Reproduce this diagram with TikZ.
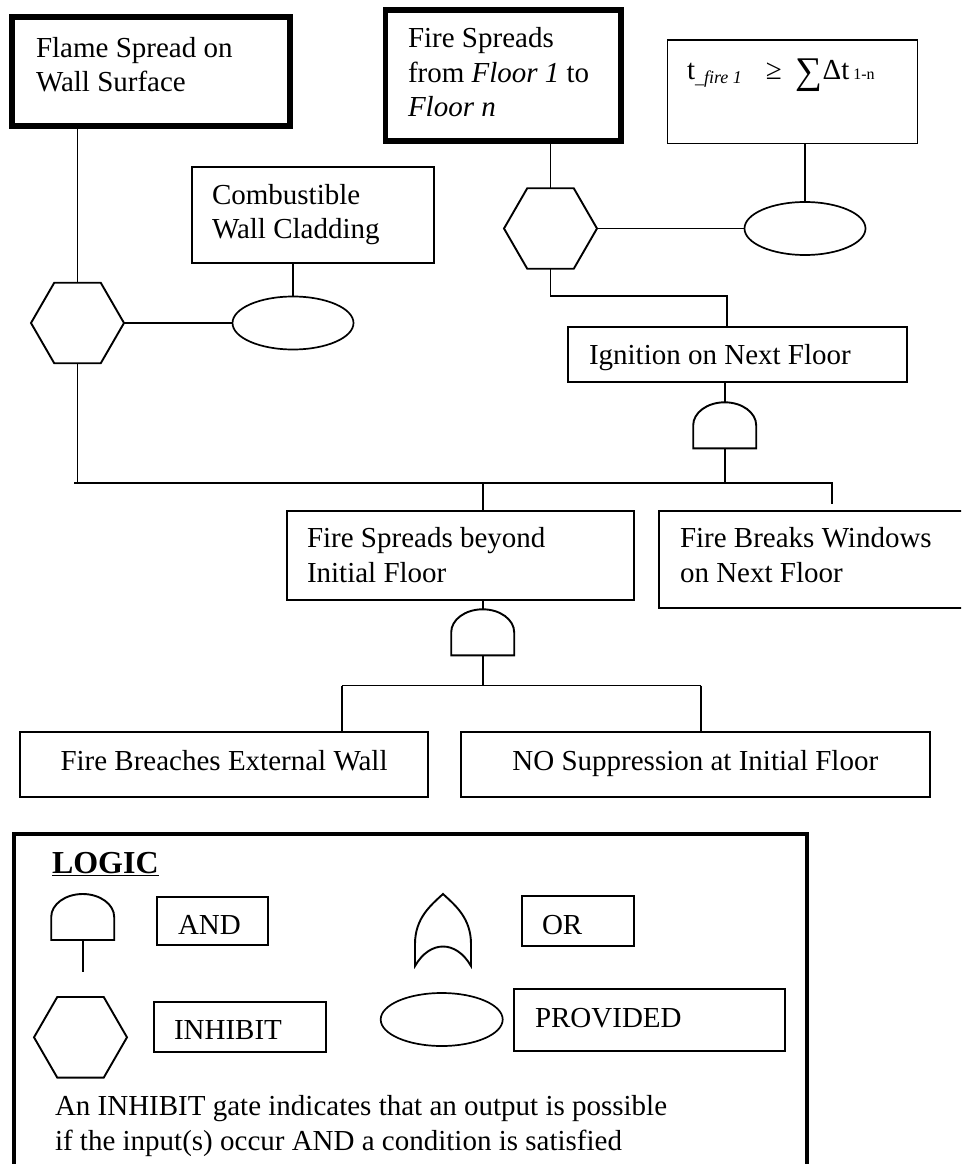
\documentclass[tikz,border=0pt]{standalone}
\usepackage{fontspec}
\usepackage{graphicx}
\setmainfont{Liberation Serif}
\usetikzlibrary{shapes.geometric}

\begin{document}
\begin{tikzpicture}[x=1pt,y=-1pt,
  wire/.style={line width=1.9pt},
  thinbox/.style={draw, line width=1.9pt, inner sep=0pt, outer sep=0pt, anchor=north west},
  thickbox/.style={draw, line width=5.5pt, inner sep=0pt, outer sep=0pt, anchor=north west},
  framebox/.style={draw, line width=4.3pt, inner sep=0pt, outer sep=0pt, anchor=north west},
  hexa/.style={draw, line width=1.9pt, regular polygon, regular polygon sides=6,
    minimum size=93pt, inner sep=0pt, outer sep=0pt},
  oval/.style={draw, line width=1.7pt, ellipse, minimum width=121pt, minimum height=53pt,
    inner sep=0pt, outer sep=0pt},
  txt/.style={inner sep=0pt, outer sep=0pt, anchor=base west, font=\fontsize{29}{34.5}\selectfont},
  ctxt/.style={txt, anchor=base},
  andgate/.pic={
    \draw[wire] (-31.5,0) -- (-31.5,-23)
      arc[start angle=180, end angle=360, x radius=31.5, y radius=23]
      -- (31.5,0) -- cycle;
    \coordinate (-top) at (0,-46);
    \coordinate (-bot) at (0,0);
  }
]
\useasboundingbox (0,0) rectangle (961,1164);
\clip (0,0) rectangle (961,1164);

% ---------- event boxes ----------
\node[thickbox, minimum width=278pt, minimum height=109pt] (b1) at (12,17) {};
\node[thickbox, minimum width=235.5pt, minimum height=131pt] (b2) at (385.5,10) {};
\node[thinbox, minimum width=242pt, minimum height=96pt] (cwc) at (192,167) {};
\node[thinbox, minimum width=250pt, minimum height=103.5pt] (form) at (667.5,40) {};
\node[thinbox, minimum width=339pt, minimum height=55pt] (ign) at (567.7,327.3) {};
\node[thinbox, minimum width=347pt, minimum height=88.4pt] (fsb) at (286.7,511.3) {};
\node[thinbox, minimum width=320pt, minimum height=96.4pt] (fbw) at (659.3,511.3) {};
\node[thinbox, minimum width=407.7pt, minimum height=65.6pt] (fbew) at (20,731.7) {};
\node[thinbox, minimum width=468.7pt, minimum height=65.6pt] (nos) at (461,731.7) {};

% ---------- gates and conditions ----------
\node[hexa] (hex1) at (77.5,323) {};
\node[oval] (ell1) at (293,323) {};
\node[hexa] (hex2) at (550.5,228.5) {};
\node[oval] (ell2) at (805,228.5) {};
\pic (g2) at (724.7,448.3) {andgate};
\pic (g1) at (482.7,655.3) {andgate};

% ---------- junction points ----------
\coordinate (j2) at (727,296);
\coordinate (barL) at (74,483);
\coordinate (barR) at (832,483);
\coordinate (fbwstub) at (832,504);
\coordinate (bar2L) at (342,685.5);
\coordinate (bar2R) at (701,685.5);

% ---------- connectors ----------
\draw[wire] (b1.south -| hex1.north) -- (hex1.north);
\draw[wire] (hex1.east) -- (ell1.west);
\draw[wire] (cwc.south -| ell1.north) -- (ell1.north);
\draw[wire] (b2.south -| hex2.north) -- (hex2.north);
\draw[wire] (hex2.east) -- (ell2.west);
\draw[wire] (form.south -| ell2.north) -- (ell2.north);
\draw[wire] (hex2.south) |- (j2) -- (ign.north -| j2);
\draw[wire] (ign.south -| g2-top) -- (g2-top);
\draw[wire] (hex1.south) -- (hex1.south |- barL);
\draw[wire] (barL) -- (barR) -- (fbwstub);
\draw[wire] (g2-bot) -- (g2-bot |- barR);
\draw[wire] (barR -| g1-top) -- (fsb.north -| g1-top);
\draw[wire] (fsb.south -| g1-top) -- (g1-top);
\draw[wire] (g1-bot) -- (g1-bot |- bar2L);
\draw[wire] (bar2L) -- (bar2R);
\draw[wire] (bar2L) -- (fbew.north -| bar2L);
\draw[wire] (bar2R) -- (nos.north -| bar2R);

% ---------- labels ----------
\node[txt] (t-b1) at (36,57.3) {\vtop{\hbox{Flame Spread on}\hbox{Wall Surface}}};
\node[txt] (t-b2) at (408,48) {\vtop{\hbox{Fire Spreads}\hbox{from \textit{Floor 1} to}\hbox{\textit{Floor n}}}};
\node[txt] (t-cwc) at (212,204) {\vtop{\hbox{Combustible}\hbox{Wall Cladding}}};
\node[txt] (t-form) at (687,80) {t\raisebox{-3pt}{\fontsize{18}{18}\selectfont\_\textit{fire 1}}\hspace{24pt}≥\hspace{14pt}\raisebox{-4pt}{\scalebox{1.3}{∑}}Δt\hspace{4pt}{\fontsize{16}{16}\selectfont 1-n}};
\node[txt] (t-ign) at (589,364) {Ignition on Next Floor};
\node[txt] (t-fsb) at (307,547.5) {\vtop{\hbox{Fire Spreads beyond}\hbox{Initial Floor}}};
\node[txt] (t-fbw) at (680,547.5) {\vtop{\hbox{Fire Breaks Windows}\hbox{on Next Floor}}};
\node[ctxt] (t-fbew) at (224,770) {Fire Breaches External Wall};
\node[ctxt] (t-nos) at (695.3,770) {NO Suppression at Initial Floor};

% ---------- legend ----------
\node[framebox, minimum width=793pt, minimum height=350pt] (legend) at (14,834) {};
\node[txt, font=\fontsize{32}{36}\selectfont\bfseries] (logic) at (52,873) {\underline{LOGIC}};

\pic (lg) at (82.7,940) {andgate};
\coordinate (lgstem) at (82.7,971.7);
\draw[wire] (lg-bot) -- (lgstem);
\node[thinbox, minimum width=111.3pt, minimum height=48.6pt] (land) at (156.7,896.7) {};
\node[txt] (t-land) at (178,934) {AND};

\draw[wire] (415,966) -- (415,944)
  .. controls (415,918) and (431,905) .. (443,894)
  .. controls (455,905) and (471,918) .. (471,944)
  -- (471,966)
  .. controls (456,940) and (430,940) .. (415,966) -- cycle;
\node[thinbox, minimum width=112pt, minimum height=49.4pt] (lor) at (521.7,896.3) {};
\node[txt] (t-lor) at (542,934) {OR};

\node[hexa] (lhex) at (80.5,1037.3) {};
\node[thinbox, minimum width=172.3pt, minimum height=50.3pt] (linh) at (153.7,1001.7) {};
\node[txt] (t-linh) at (174,1039) {INHIBIT};

\node[oval, minimum width=122pt] (lell) at (441.7,1019.5) {};
\node[thinbox, minimum width=271.3pt, minimum height=61.4pt] (lprov) at (513.7,989.3) {};
\node[txt] (t-lprov) at (535,1027) {PROVIDED};

\node[txt, font=\fontsize{29}{35}\selectfont] (note) at (55,1115)
  {\vtop{\hbox{An INHIBIT gate indicates that an output is possible}\hbox{if the input(s) occur AND a condition is satisfied}}};
\end{tikzpicture}
\end{document}
